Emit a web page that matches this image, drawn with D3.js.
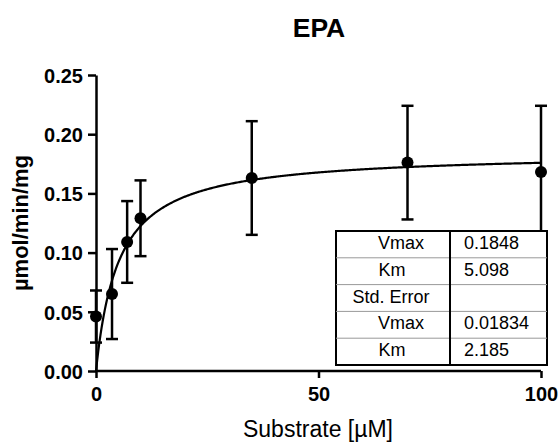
<!DOCTYPE html>
<html>
<head>
<meta charset="utf-8">
<script src="https://cdn.jsdelivr.net/npm/d3@7"></script>
<style>
  body { margin: 0; background: #fff; }
  svg { font-family: Arial, "Liberation Sans", sans-serif; }
</style>
</head>
<body>
<div id="box"></div>
<script>
// canvas
const width = 560
const height = 443
const margin = {top: 75, right: 19, bottom: 72, left: 96}
const fontFam = 'Arial, "Liberation Sans", sans-serif'

// data
const substrate = [0, 3.6, 7, 10, 35, 70, 100]
const rate = [0.046, 0.065, 0.109, 0.129, 0.163, 0.176, 0.168]
const sd = [0.022, 0.038, 0.0345, 0.032, 0.048, 0.048, 0.056]
const xTicks = [0, 50, 100]
const yTicks = [0, 0.05, 0.10, 0.15, 0.20, 0.25]
// fit results table
const tableLabels = ['Vmax', 'Km', 'Std. Error', 'Vmax', 'Km']
const tableValues = ['0.1848', '5.098', '', '0.01834', '2.185']
const vmax = 0.1848
const km = 5.098

const x = d3.scaleLinear().domain([0, 100]).range([margin.left, width - margin.right])
const y = d3.scaleLinear().domain([0, 0.25]).range([height - margin.bottom, margin.top])

const svg = d3.select('#box').append('svg')
  .attr('width', width)
  .attr('height', height)

// title
svg.append('text')
  .attr('x', 319).attr('y', 37)
  .attr('text-anchor', 'middle')
  .style('font', `bold 26.5px ${fontFam}`)
  .text('EPA')

// axes
const xAxis = svg.append('g')
  .attr('transform', `translate(0,${y(0)})`)
  .call(d3.axisBottom(x).tickValues(xTicks).tickSize(7).tickPadding(9).tickSizeOuter(0))
const yAxis = svg.append('g')
  .attr('transform', `translate(${x(0)},0)`)
  .call(d3.axisLeft(y).tickValues(yTicks).tickFormat(d3.format('.2f')).tickSize(8).tickPadding(5).tickSizeOuter(0))

for (const ax of [xAxis, yAxis]) {
  ax.select('.domain').attr('stroke-width', 2.5)
  ax.selectAll('.tick line').attr('stroke-width', 2.5)
  ax.selectAll('.tick text')
    .attr('fill', '#000')
    .style('font', `bold 20px ${fontFam}`)
}
xAxis.selectAll('.domain').attr('d', `M${x(0)},0H${x(100)}`)
yAxis.selectAll('.tick text').attr('dy', '0.36em')

// axis labels
svg.append('text')
  .attr('transform', `translate(28,${y(0.125)}) rotate(-90)`)
  .attr('text-anchor', 'middle')
  .style('font', `bold 22px ${fontFam}`)
  .text('µmol/min/mg')

svg.append('text')
  .attr('x', 318).attr('y', 437)
  .attr('text-anchor', 'middle')
  .style('font', `23px ${fontFam}`)
  .text('Substrate [µM]')

// fitted Michaelis-Menten curve
const curveX = d3.range(0, 100.01, 0.25)
svg.append('path')
  .datum(curveX)
  .attr('fill', 'none')
  .attr('stroke', '#000')
  .attr('stroke-width', 2.2)
  .attr('d', d3.line().x(d => x(d)).y(d => y(vmax * d / (km + d))))

// error bars
const points = substrate.map((s, i) => ({s, v: rate[i], e: sd[i]}))
const eb = svg.append('g').attr('stroke', '#000').attr('stroke-width', 2.5)
eb.selectAll('.bar').data(points).join('line')
  .attr('x1', d => x(d.s)).attr('x2', d => x(d.s))
  .attr('y1', d => y(d.v - d.e)).attr('y2', d => y(d.v + d.e))
eb.selectAll('.capT').data(points).join('line').attr('class', 'capT')
  .attr('x1', d => x(d.s) - 6).attr('x2', d => x(d.s) + 6)
  .attr('y1', d => y(d.v + d.e)).attr('y2', d => y(d.v + d.e))
eb.selectAll('.capB').data(points).join('line').attr('class', 'capB')
  .attr('x1', d => x(d.s) - 6).attr('x2', d => x(d.s) + 6)
  .attr('y1', d => y(d.v - d.e)).attr('y2', d => y(d.v - d.e))

// points
svg.append('g').selectAll('circle').data(points).join('circle')
  .attr('cx', d => x(d.s))
  .attr('cy', d => y(d.v))
  .attr('r', 6)
  .attr('fill', '#000')

// results table
const tx = 336, ty = 231, tw = 211, rowH = 26.8, colX = 450
const table = svg.append('g')
table.append('rect')
  .attr('x', tx).attr('y', ty).attr('width', tw).attr('height', rowH * 5)
  .attr('fill', '#fff').attr('stroke', '#000').attr('stroke-width', 2)
table.selectAll('.row').data(d3.range(1, 5)).join('line')
  .attr('x1', tx).attr('x2', tx + tw)
  .attr('y1', d => ty + d * rowH).attr('y2', d => ty + d * rowH)
  .attr('stroke', '#999').attr('stroke-width', 1)
table.append('line')
  .attr('x1', colX).attr('x2', colX)
  .attr('y1', ty).attr('y2', ty + rowH * 5)
  .attr('stroke', '#000').attr('stroke-width', 2)
table.selectAll('.lab').data(tableLabels).join('text')
  .attr('x', (d, i) => i === 2 ? 391 : (d === 'Km' ? 392 : 401))
  .attr('y', (d, i) => ty + i * rowH + 18)
  .attr('text-anchor', 'middle')
  .style('font', `18px ${fontFam}`)
  .text(d => d)
table.selectAll('.val').data(tableValues).join('text')
  .attr('x', 464)
  .attr('y', (d, i) => ty + i * rowH + 18)
  .style('font', `18px ${fontFam}`)
  .text(d => d)
</script>
</body>
</html>
